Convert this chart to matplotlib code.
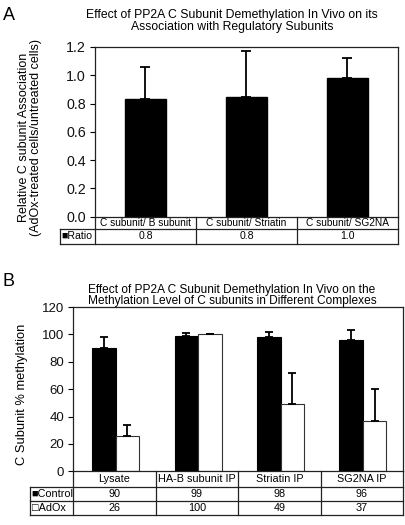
"""
Two-panel figure: PP2A C subunit demethylation (AdOx) in vivo.
A: association ratio with regulatory subunits; B: % methylation per complex.
Data tables are drawn under each axis by hand.
"""
import matplotlib
matplotlib.use("Agg")
import matplotlib.pyplot as plt
from matplotlib.lines import Line2D

plt.rcParams["font.family"] = ["Liberation Sans", "DejaVu Sans"]

W, H = 406, 525  # output size in pixels (dpi 100)

# ---- panel A data
A_CATS = ["C subunit/ B subunit", "C subunit/ Striatin", "C subunit/ SG2NA"]
A_RATIO = [0.83, 0.845, 0.98]
A_ERR = [0.23, 0.325, 0.14]
A_YTICKS = [0.0, 0.2, 0.4, 0.6, 0.8, 1.0, 1.2]

# ---- panel B data
B_CATS = ["Lysate", "HA-B subunit IP", "Striatin IP", "SG2NA IP"]
B_CONTROL = [90, 99, 98, 96]
B_ADOX = [26, 100, 49, 37]
B_CONTROL_ERR = [8, 2, 4, 7]
B_ADOX_ERR = [8, 0.5, 23, 23]
B_YTICKS = [0, 20, 40, 60, 80, 100, 120]


def px_rect(left, top, right, bottom):
    """Pixel box (origin top-left) -> figure-fraction rect."""
    return [left / W, 1 - bottom / H, (right - left) / W, (bottom - top) / H]


def style_axes(ax, yticks, fmt, fs):
    for sp in ax.spines.values():
        sp.set_linewidth(0.9)
        sp.set_color("#222222")
    ax.set_xticks([])
    ax.set_yticks(yticks)
    ax.set_yticklabels([fmt.format(v) for v in yticks], fontsize=fs, color="#111111")
    ax.set_ylim(yticks[0], yticks[-1])
    ax.tick_params(axis="y", direction="out", length=3.5, width=0.8, pad=3)


def draw_table(ax, cats, rows, row_px, label_px, fs=7.3, fs_rows=7.8):
    """Category row + data rows below the axes, in axes coordinates."""
    pos = ax.get_position()
    axw, axh = pos.width * W, pos.height * H
    n = len(cats)
    xl = -label_px / axw
    edges = [0.0]
    for h in row_px:
        edges.append(edges[-1] - h / axh)
    kw = dict(transform=ax.transAxes, color="#222222", lw=0.9, clip_on=False)
    # horizontal lines
    for y in edges[1:]:
        ax.add_line(Line2D([xl, 1], [y, y], **kw))
    # vertical lines
    for i in range(n + 1):
        ax.add_line(Line2D([i / n, i / n], [0, edges[-1]], **kw))
    ax.add_line(Line2D([xl, xl], [edges[1], edges[-1]], **kw))
    # category names
    for i, c in enumerate(cats):
        ax.text((i + 0.5) / n, (edges[0] + edges[1]) / 2, c, transform=ax.transAxes,
                ha="center", va="center", fontsize=fs)
    # data rows
    for r, (label, vals) in enumerate(rows):
        yc = (edges[r + 1] + edges[r + 2]) / 2
        ax.text(xl + 1.5 / axw, yc, label, transform=ax.transAxes,
                ha="left", va="center", fontsize=fs_rows)
        for i, v in enumerate(vals):
            ax.text((i + 0.5) / n, yc, v, transform=ax.transAxes,
                    ha="center", va="center", fontsize=fs_rows)


fig = plt.figure(figsize=(W / 100, H / 100), dpi=100)

# ---------------- Panel A
axA = fig.add_axes(px_rect(95, 47, 398, 216.7))
xa = list(range(len(A_CATS)))
axA.bar(xa, A_RATIO, width=0.41, color="black", edgecolor="black", zorder=2)
axA.errorbar(xa, A_RATIO, yerr=[[0] * len(A_ERR), A_ERR], fmt="none",
             ecolor="black", elinewidth=1.3, capsize=3.5, capthick=1.3, zorder=3)
axA.set_xlim(-0.5, len(A_CATS) - 0.5)
style_axes(axA, A_YTICKS, "{:.1f}", 10.3)
draw_table(axA, A_CATS, [("\u25a0Ratio", [f"{v:.1f}" for v in A_RATIO])],
           row_px=[12.5, 14.5], label_px=35, fs=7.3, fs_rows=7.6)

fig.text(3 / W, 1 - 16 / H, "A", fontsize=13, ha="left", va="center")
fig.text(232 / W, 1 - 21 / H,
         "Effect of PP2A C Subunit Demethylation In Vivo on its\n"
         "Association with Regulatory Subunits",
         fontsize=8.8, ha="center", va="center", linespacing=0.95)
fig.text(30 / W, 1 - 137 / H,
         "Relative C subunit Association\n(AdOx-treated cells/untreated cells)",
         rotation=90, fontsize=9.0, ha="center", va="center", linespacing=1.0)

# ---------------- Panel B
axB = fig.add_axes(px_rect(73.3, 307, 403, 471.3))
xb = list(range(len(B_CATS)))
bw = 0.285
xc = [x - 0.128 for x in xb]
xw = [x + 0.157 for x in xb]
axB.bar(xc, B_CONTROL, width=bw, color="black", edgecolor="black", lw=0.8, zorder=2)
axB.bar(xw, B_ADOX, width=bw, color="white", edgecolor="#333333", lw=0.8, zorder=2)
axB.errorbar(xc, B_CONTROL, yerr=[[0] * len(B_CONTROL_ERR), B_CONTROL_ERR], fmt="none",
             ecolor="black", elinewidth=1.3, capsize=2.6, capthick=1.3, zorder=3)
axB.errorbar(xw, B_ADOX, yerr=[[0] * len(B_ADOX_ERR), B_ADOX_ERR], fmt="none",
             ecolor="black", elinewidth=1.3, capsize=2.6, capthick=1.3, zorder=3)
axB.set_xlim(-0.5, len(B_CATS) - 0.5)
style_axes(axB, B_YTICKS, "{:d}", 9.5)
draw_table(axB, B_CATS,
           [("\u25a0Control", [str(v) for v in B_CONTROL]),
            ("\u25a1AdOx", [str(v) for v in B_ADOX])],
           row_px=[15.4, 14.3, 14], label_px=43.3, fs=7.8, fs_rows=7.8)

fig.text(3 / W, 1 - 282 / H, "B", fontsize=13, ha="left", va="center")
fig.text(232 / W, 1 - 295.5 / H,
         "Effect of PP2A C Subunit Demethylation In Vivo on the\n"
         "Methylation Level of C subunits in Different Complexes",
         fontsize=8.6, ha="center", va="center", linespacing=0.92)
fig.text(22 / W, 1 - 394 / H, "C Subunit % methylation",
         rotation=90, fontsize=9.3, ha="center", va="center")

fig.savefig("out.png", dpi=100)
plt.close(fig)
